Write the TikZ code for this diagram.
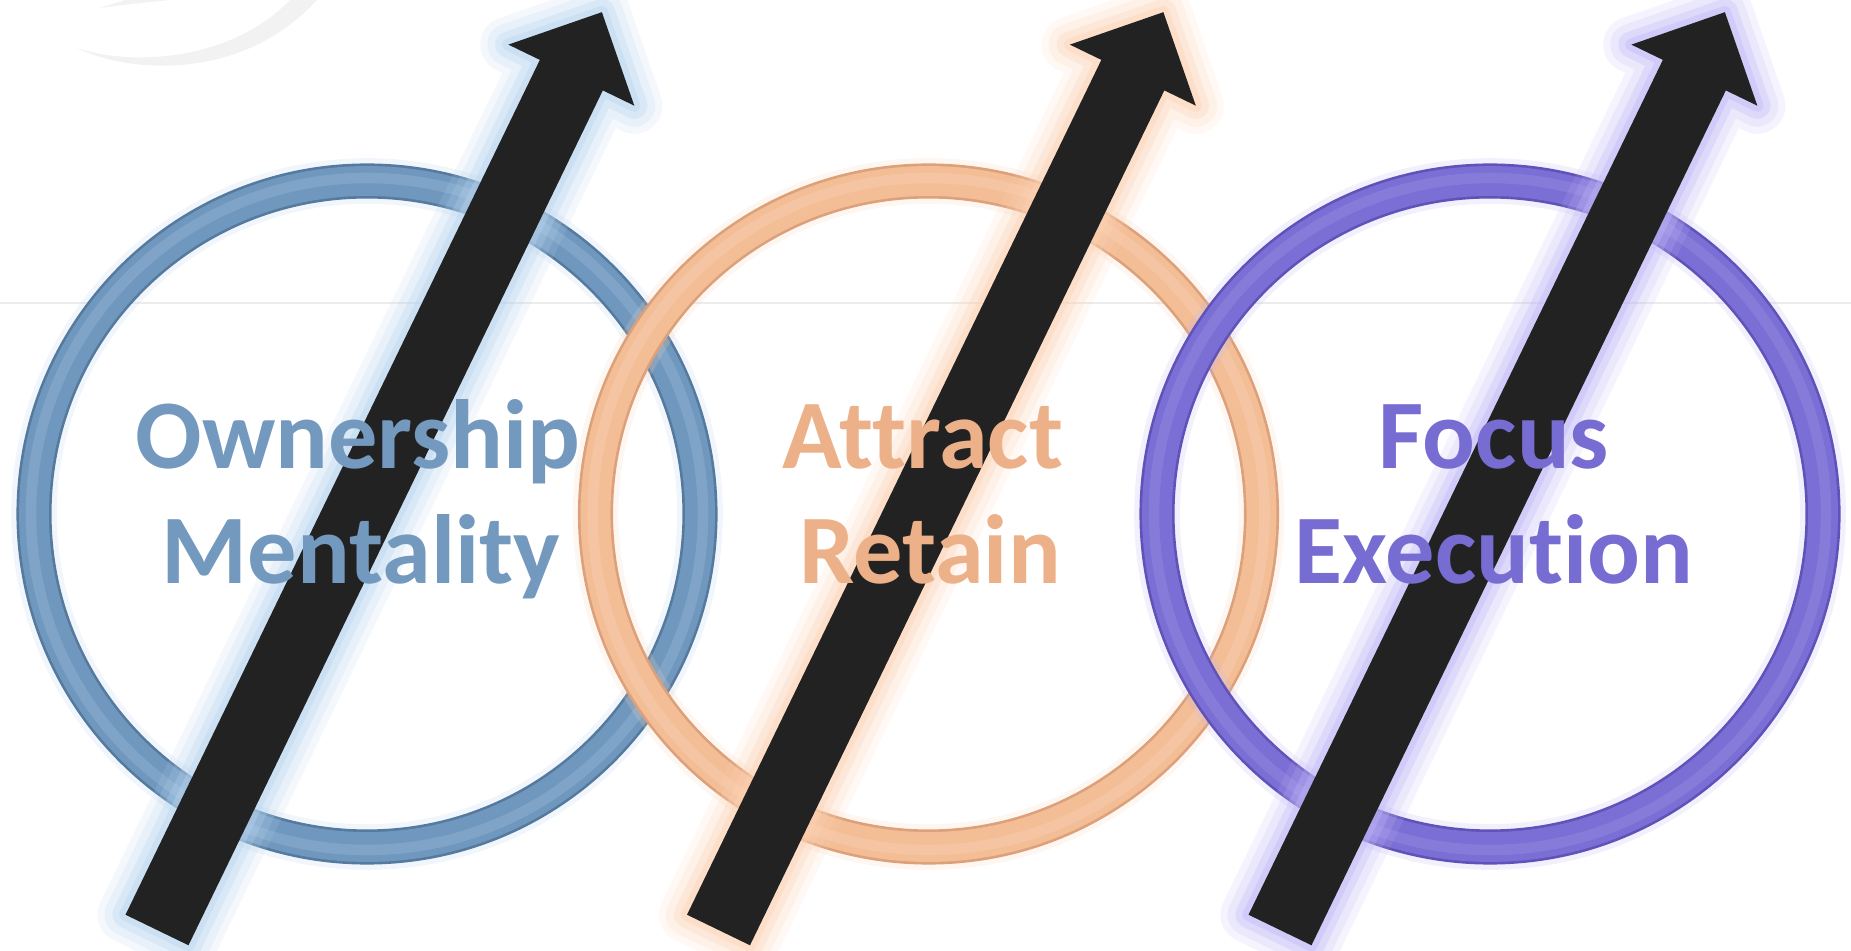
\documentclass[tikz,border=0pt]{standalone}
\usepackage{fontspec}
\setmainfont{Carlito}[Ligatures=NoCommon]

\definecolor{blmain}{HTML}{7098BE}
\definecolor{bldark}{HTML}{557A9E}
\definecolor{bllight}{HTML}{9DBBD8}
\definecolor{blglow}{HTML}{B6D3EE}
\definecolor{bltext}{HTML}{7499BE}
\definecolor{pemain}{HTML}{F3BD96}
\definecolor{pedark}{HTML}{DCA07A}
\definecolor{pelight}{HTML}{F9D6BC}
\definecolor{peglow}{HTML}{FCD2B4}
\definecolor{petext}{HTML}{EDB189}
\definecolor{pumain}{HTML}{7B6ED4}
\definecolor{pudark}{HTML}{5F52B8}
\definecolor{pulight}{HTML}{9E95E6}
\definecolor{puglow}{HTML}{BFB6F6}
\definecolor{putext}{HTML}{776CD2}
\definecolor{arrowfill}{HTML}{222222}

\tikzset{
  glow/.style={
    preaction={draw=#1, opacity=0.15, line width=32pt},
    preaction={draw=#1, opacity=0.2, line width=24pt},
    preaction={draw=#1, opacity=0.3, line width=15pt},
    preaction={draw=#1, opacity=0.4, line width=7pt}},
  lbl/.style={font=\fontsize{56}{60}\selectfont\bfseries, text=#1, inner sep=0pt, anchor=base}
}

\begin{document}
\begin{tikzpicture}[x=0.02cm, y=0.02cm, line join=round]
  \useasboundingbox (0,0) rectangle (1851,950);

  % background line and swoosh
  \draw[gray!15, line width=0.8pt] (0,647) -- (1851,647);
  \fill[gray!10] (77,902) .. controls (125,878) and (240,866) .. (317,950)
    -- (290,950) .. controls (230,888) and (130,884) .. (77,902) -- cycle;
  \fill[gray!10] (100,942) .. controls (130,946) and (150,948) .. (170,950) -- (125,950) -- cycle;

  % rings
  \foreach \i/\c in {0/bl,1/pe,2/pu} {
    \coordinate (R\i) at ({367+561.5*\i},436);
    \draw[\c glow, opacity=0.2, line width=26pt] (R\i) circle (333);
    \draw[\c dark, line width=20pt] (R\i) circle (333);
    \draw[\c main, line width=17pt] (R\i) circle (333);
    \draw[\c light, opacity=0.35, line width=6pt] (R\i) circle (336);
  }

  % arrows
  \foreach \i/\c in {0/bl,1/pe,2/pu} {
    \begin{scope}[shift={({157+561.5*\i},20)}, rotate=64.14]
      \fill[arrowfill, glow=\c glow] (0,-35) -- (950,-35) -- (950,-70) -- (1020,0)
        -- (950,70) -- (950,35) -- (0,35) -- cycle;
    \end{scope}
  }

  % labels
  \node[lbl=bltext] (own)  at (358,481)  {Ownership};
  \node[lbl=bltext] (ment) at (361,366)  {Mentality};
  \node[lbl=petext] (attr) at (923,481)  {Attract};
  \node[lbl=petext] (ret)  at (930,366)  {Retain};
  \node[lbl=putext] (foc)  at (1494,481) {Focus};
  \node[lbl=putext] (exe)  at (1494,366) {Execution};
\end{tikzpicture}
\end{document}
